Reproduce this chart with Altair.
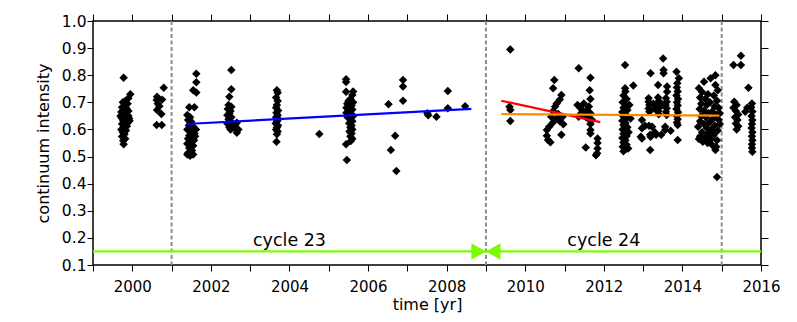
import altair as alt
import pandas as pd

# ---- observed points (year, continuum intensity), grouped by observing run ----
run_1999 = [(1999.78,0.791),(1999.95,0.730),(1999.90,0.715),(1999.82,0.705),(1999.76,0.700),(1999.88,0.695),
            (1999.80,0.688),(1999.74,0.682),(1999.85,0.678),(1999.78,0.672),(1999.90,0.668),(1999.72,0.664),
            (1999.83,0.660),(1999.76,0.655),(1999.88,0.651),(1999.80,0.647),(1999.73,0.642),(1999.92,0.640),
            (1999.85,0.636),(1999.77,0.632),(1999.82,0.628),(1999.88,0.624),(1999.74,0.620),(1999.80,0.616),
            (1999.86,0.612),(1999.78,0.606),(1999.72,0.600),(1999.84,0.596),(1999.76,0.590),(1999.80,0.582),
            (1999.74,0.574),(1999.82,0.566),(1999.77,0.558),(1999.78,0.545),(1999.90,0.650),(1999.93,0.632),
            (1999.70,0.650)]
run_2000 = [(2000.63,0.721),(2000.80,0.754),(2000.62,0.709),(2000.76,0.710),(2000.63,0.672),(2000.74,0.657),
            (2000.62,0.616),(2000.75,0.616),(2000.69,0.686),(2000.65,0.695)]
run_2001 = [(2001.63,0.805),(2001.63,0.774),(2001.55,0.745),(2001.63,0.736),(2001.45,0.682),(2001.58,0.682),
            (2001.40,0.653),(2001.47,0.645),(2001.42,0.635),(2001.50,0.628),(2001.44,0.615),(2001.55,0.610),
            (2001.40,0.600),(2001.50,0.592),(2001.58,0.585),(2001.45,0.578),(2001.53,0.572),(2001.42,0.566),
            (2001.57,0.560),(2001.48,0.553),(2001.40,0.547),(2001.55,0.540),(2001.45,0.532),(2001.52,0.522),
            (2001.42,0.513),(2001.55,0.508),(2001.47,0.503),(2001.40,0.508),(2001.60,0.575),(2001.62,0.600)]
run_2002 = [(2002.52,0.819),(2002.52,0.748),(2002.47,0.721),(2002.45,0.690),(2002.52,0.684),(2002.43,0.675),
            (2002.50,0.668),(2002.47,0.660),(2002.42,0.652),(2002.52,0.645),(2002.45,0.638),(2002.50,0.630),
            (2002.42,0.622),(2002.55,0.615),(2002.47,0.608),(2002.50,0.600),(2002.66,0.625),(2002.66,0.588),
            (2002.60,0.605),(2002.62,0.618),(2002.70,0.600)]
run_2003 = [(2003.68,0.745),(2003.70,0.735),(2003.66,0.718),(2003.70,0.705),(2003.68,0.690),(2003.66,0.680),
            (2003.71,0.670),(2003.67,0.662),(2003.70,0.652),(2003.66,0.645),(2003.72,0.638),(2003.68,0.630),
            (2003.65,0.622),(2003.71,0.615),(2003.68,0.607),(2003.66,0.600),(2003.70,0.592),(2003.68,0.582),
            (2003.67,0.555)]
run_2004 = [(2004.76,0.583)]
run_2005 = [(2005.44,0.785),(2005.44,0.775),(2005.44,0.739),(2005.60,0.727),(2005.55,0.712),(2005.62,0.700),
            (2005.47,0.695),(2005.58,0.688),(2005.45,0.680),(2005.60,0.674),(2005.50,0.668),(2005.45,0.662),
            (2005.58,0.656),(2005.62,0.650),(2005.48,0.645),(2005.55,0.638),(2005.60,0.630),(2005.52,0.623),
            (2005.58,0.615),(2005.55,0.607),(2005.60,0.600),(2005.53,0.592),(2005.58,0.585),(2005.55,0.575),
            (2005.60,0.566),(2005.56,0.557),(2005.44,0.545),(2005.46,0.487),(2005.62,0.740),(2005.50,0.705)]
run_2006 = [(2006.52,0.693),(2006.69,0.577),(2006.58,0.524),(2006.72,0.447),(2006.89,0.782),(2006.89,0.758),
            (2006.89,0.706)]
run_2007 = [(2007.51,0.660),(2007.53,0.652),(2007.74,0.647),(2008.03,0.742),(2008.03,0.678),(2008.47,0.686)]
run_2009 = [(2009.62,0.895),(2009.60,0.684),(2009.62,0.672),(2009.62,0.631)]
run_2010 = [(2010.74,0.782),(2010.71,0.752),(2010.92,0.727),(2010.88,0.710),(2010.80,0.696),(2010.76,0.685),
            (2010.71,0.668),(2010.84,0.657),(2010.95,0.647),(2010.66,0.647),(2010.97,0.619),(2010.61,0.610),
            (2010.55,0.598),(2010.92,0.580),(2010.55,0.577),(2010.58,0.561),(2010.64,0.553),(2010.80,0.640),
            (2010.88,0.630),(2010.70,0.625)]
run_2011 = [(2011.36,0.826),(2011.66,0.791),(2011.64,0.745),(2011.66,0.712),(2011.33,0.690),(2011.49,0.696),
            (2011.45,0.672),(2011.57,0.672),(2011.36,0.647),(2011.66,0.660),(2011.70,0.635),(2011.66,0.598),
            (2011.66,0.585),(2011.54,0.533),(2011.84,0.567),(2011.84,0.550),(2011.84,0.530),(2011.83,0.512),
            (2011.80,0.505),(2011.50,0.655),(2011.60,0.640),(2011.42,0.660),(2011.66,0.620),(2011.55,0.645),
            (2011.62,0.685),(2011.40,0.680)]
run_2012 = [(2012.54,0.838),(2012.75,0.762),(2012.54,0.752),(2012.55,0.740),(2012.50,0.725),(2012.58,0.712),
            (2012.48,0.700),(2012.56,0.690),(2012.50,0.680),(2012.60,0.672),(2012.47,0.664),(2012.55,0.656),
            (2012.50,0.648),(2012.58,0.640),(2012.47,0.632),(2012.55,0.624),(2012.50,0.616),(2012.60,0.608),
            (2012.48,0.600),(2012.56,0.592),(2012.50,0.584),(2012.58,0.576),(2012.47,0.568),(2012.55,0.560),
            (2012.50,0.552),(2012.58,0.544),(2012.48,0.536),(2012.56,0.528),(2012.50,0.520),(2012.62,0.530),
            (2012.65,0.690),(2012.68,0.640),(2012.63,0.590)]
run_2013 = [(2013.19,0.807),(2013.51,0.862),(2013.52,0.819),(2013.52,0.807),(2013.38,0.764),(2013.85,0.813),
            (2013.91,0.789),(2013.61,0.758),(2013.61,0.739),(2013.87,0.770),(2013.86,0.755),(2013.88,0.740),
            (2013.85,0.725),(2013.89,0.712),(2013.86,0.700),(2013.88,0.688),(2013.85,0.675),(2013.89,0.663),
            (2013.86,0.650),(2013.88,0.638),(2013.86,0.626),(2013.88,0.616),(2013.88,0.561),(2013.14,0.715),
            (2013.14,0.702),(2013.16,0.690),(2013.14,0.677),(2013.16,0.665),(2013.38,0.718),(2013.40,0.705),
            (2013.38,0.692),(2013.41,0.680),(2013.38,0.668),(2013.40,0.656),(2013.58,0.715),(2013.60,0.702),
            (2013.57,0.690),(2013.60,0.678),(2013.58,0.665),(2013.60,0.653),(2013.26,0.695),(2013.30,0.675),
            (2013.48,0.690),(2012.97,0.635),(2012.97,0.604),(2012.97,0.567),(2013.19,0.573),(2012.94,0.573),
            (2013.23,0.610),(2013.56,0.598),(2013.05,0.614),(2013.15,0.614),(2013.18,0.580),(2013.33,0.580),
            (2013.46,0.580),(2013.56,0.610),(2013.18,0.524),(2013.30,0.590),(2013.70,0.595)]
run_2014 = [(2014.84,0.800),(2014.72,0.789),(2014.55,0.776),(2014.84,0.764),(2014.42,0.752),(2014.90,0.745),
            (2014.50,0.738),(2014.65,0.730),(2014.80,0.725),(2014.45,0.718),(2014.58,0.712),(2014.88,0.706),
            (2014.70,0.700),(2014.48,0.695),(2014.62,0.690),(2014.82,0.685),(2014.92,0.680),(2014.44,0.675),
            (2014.55,0.670),(2014.75,0.665),(2014.66,0.660),(2014.86,0.655),(2014.48,0.650),(2014.60,0.645),
            (2014.78,0.640),(2014.92,0.636),(2014.45,0.630),(2014.68,0.626),(2014.55,0.620),(2014.82,0.615),
            (2014.40,0.610),(2014.62,0.605),(2014.74,0.600),(2014.90,0.596),(2014.50,0.590),(2014.66,0.585),
            (2014.80,0.580),(2014.45,0.575),(2014.58,0.570),(2014.72,0.565),(2014.88,0.560),(2014.52,0.555),
            (2014.64,0.550),(2014.76,0.543),(2014.86,0.536),(2014.84,0.524),(2014.42,0.565),(2014.95,0.620),
            (2014.95,0.660),(2014.88,0.425)]
run_2015 = [(2015.49,0.872),(2015.30,0.838),(2015.49,0.838),(2015.68,0.754),(2015.32,0.702),(2015.38,0.690),
            (2015.30,0.680),(2015.36,0.668),(2015.42,0.655),(2015.34,0.645),(2015.40,0.635),(2015.36,0.622),
            (2015.42,0.612),(2015.38,0.600),(2015.77,0.696),(2015.75,0.682),(2015.78,0.666),(2015.76,0.650),
            (2015.78,0.635),(2015.77,0.620),(2015.76,0.605),(2015.78,0.590),(2015.77,0.575),(2015.78,0.560),
            (2015.77,0.545),(2015.77,0.532),(2015.78,0.518),(2015.60,0.665),(2015.65,0.680)]

# ---- linear fits (start, end) ----
fit_names = ["cycle23", "cycle24a", "cycle24b"]
fit_t0 = [2001.37, 2009.39, 2009.39]
fit_v0 = [0.620, 0.706, 0.657]
fit_t1 = [2008.63, 2011.91, 2014.94]
fit_v1 = [0.676, 0.627, 0.651]
fit_colors = ["#0000ff", "#ff0000", "#ff8c00"]

# ---- cycle boundaries and labels ----
boundaries = [2001.0, 2009.0, 2015.0]
cycle_min = [2009.0]
bar_level = [0.15]
cycle_labels = ["cycle 23", "cycle 24"]
cycle_label_t = [2004.0, 2012.0]

x_ticks = list(range(1999, 2017))
y_ticks = [0.1, 0.2, 0.3, 0.4, 0.5, 0.6, 0.7, 0.8, 0.9, 1.0]

GREEN = "#7cfc00"
FONT = "DejaVu Sans"

runs = [run_1999, run_2000, run_2001, run_2002, run_2003, run_2004, run_2005, run_2006, run_2007,
        run_2009, run_2010, run_2011, run_2012, run_2013, run_2014, run_2015]
pts = pd.DataFrame([p for r in runs for p in r], columns=["t", "v"])

fits = pd.DataFrame(
    [{"fit": n, "t": a, "v": b} for n, a, b in zip(fit_names, fit_t0, fit_v0)]
    + [{"fit": n, "t": a, "v": b} for n, a, b in zip(fit_names, fit_t1, fit_v1)]
)
bounds = pd.DataFrame({"t": boundaries})
level = pd.DataFrame({"v": bar_level})
arrow = pd.DataFrame({"t": cycle_min, "v": bar_level})
labels = pd.DataFrame({"label": cycle_labels, "t": cycle_label_t, "v": bar_level * 2})

xs = alt.Scale(domain=[1999, 2016], nice=False, zero=False)
ys = alt.Scale(domain=[0.1, 1.0], nice=False, zero=False)

bottom_axis = alt.Axis(orient="bottom", values=x_ticks, title="time [yr]", format="d",
                       labelExpr="datum.value % 2 == 0 ? datum.label : ''",
                       labelFlush=False, labelFontSize=15,
                       tickSize=6, labelPadding=8, titlePadding=2)
top_axis = alt.Axis(orient="top", values=x_ticks, labels=False, title="", tickSize=7)
left_axis = alt.Axis(orient="left", values=y_ticks, format=".1f", title="continuum intensity",
                     labelFlush=False, labelFontSize=15.5,
                     tickSize=6, labelPadding=1, titlePadding=10)
right_axis = alt.Axis(orient="right", values=y_ticks, labels=False, title="", tickSize=7)

dashed = alt.Chart(bounds).mark_rule(color="#8c8c8c", strokeWidth=2, strokeDash=[4, 2.5]).encode(
    x=alt.X("t:Q", scale=xs, axis=top_axis)
)

points = alt.Chart(pts).mark_point(shape="diamond", filled=True, size=72, color="black", opacity=1).encode(
    x=alt.X("t:Q", scale=xs, axis=bottom_axis),
    y=alt.Y("v:Q", scale=ys, axis=left_axis),
)

fit_lines = alt.Chart(fits).mark_line(strokeWidth=2.2).encode(
    x=alt.X("t:Q", scale=xs, axis=None),
    y=alt.Y("v:Q", scale=ys, axis=None),
    color=alt.Color("fit:N", scale=alt.Scale(domain=fit_names, range=fit_colors), legend=None),
    detail="fit:N",
)

bar = alt.Chart(level).mark_rule(color=GREEN, strokeWidth=2.2).encode(
    y=alt.Y("v:Q", scale=ys, axis=right_axis)
)

head_r = alt.Chart(arrow).mark_point(shape="M-1.75,-1L0,0L-1.75,1Z", filled=True, size=276,
                                     color=GREEN, opacity=1).encode(
    x=alt.X("t:Q", scale=xs, axis=None), y=alt.Y("v:Q", scale=ys, axis=None)
)
head_l = alt.Chart(arrow).mark_point(shape="M1.75,-1L0,0L1.75,1Z", filled=True, size=276,
                                     color=GREEN, opacity=1).encode(
    x=alt.X("t:Q", scale=xs, axis=None), y=alt.Y("v:Q", scale=ys, axis=None)
)

texts = alt.Chart(labels).mark_text(font=FONT, fontSize=17.5, color="black", baseline="alphabetic",
                                    align="center", dy=-5).encode(
    x=alt.X("t:Q", scale=xs, axis=None), y=alt.Y("v:Q", scale=ys, axis=None), text="label:N"
)

chart = alt.layer(dashed, points, fit_lines, bar, head_r, head_l, texts).properties(
    width=668, height=244,
    autosize=alt.AutoSizeParams(type="none"),
    padding={"left": 85, "top": 13, "right": 20, "bottom": 49},
).configure_view(
    stroke="black", strokeWidth=1.5
).configure_axis(
    grid=False, domain=False, tickColor="black", tickWidth=1,
    labelFont=FONT, labelColor="black",
    titleFont=FONT, titleFontSize=16, titleColor="black", titleFontWeight="normal",
)

chart.save("out.html", embed_options={"renderer": "svg", "actions": False})
